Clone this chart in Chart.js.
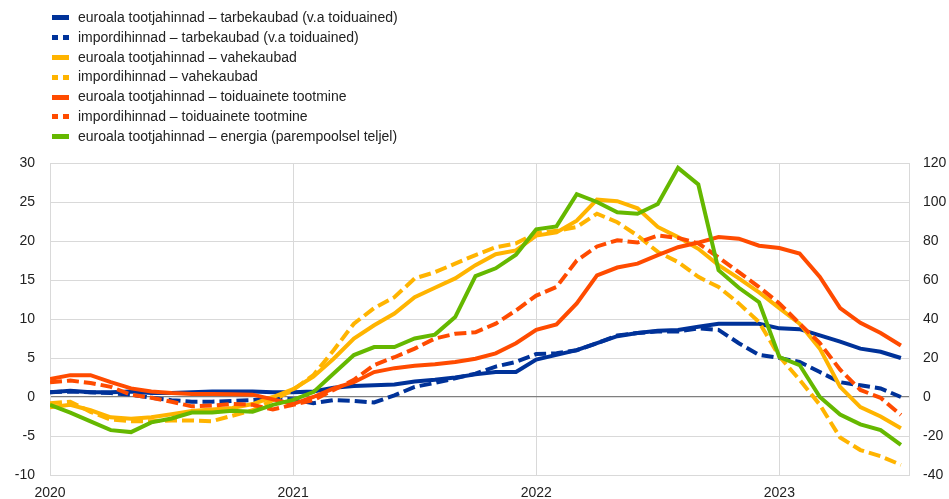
<!DOCTYPE html>
<html>
<head>
<meta charset="utf-8">
<script src="https://cdn.jsdelivr.net/npm/chart.js@4"></script>
<style>
  html, body { margin: 0; padding: 0; background: #fff; }
  #wrap { position: relative; width: 949px; height: 499px; }
  #legend { position: absolute; left: 52px; top: 8px; font-family: "Liberation Sans", Arial, sans-serif; font-size: 14px; color: #222; }
  .row { height: 19.8px; line-height: 19.8px; display: flex; align-items: center; white-space: nowrap; }
  .swatch { width: 17px; height: 5px; margin-right: 9px; flex: none; }
</style>
</head>
<body>
<div id="wrap">
  <canvas id="chart" width="949" height="499"></canvas>
  <div id="legend"></div>
</div>
<script>
// monthly, Jan 2020 .. Jul 2023
const years = ['2020', '2021', '2022', '2023'];
const months = [];
for (let y = 2020; y <= 2023; y++) {
    for (let m = 1; m <= 12; m++) {
        if (y === 2023 && m > 7) break;
        months.push(y + '-' + String(m).padStart(2, '0'));
    }
}

const labels = [
    'euroala tootjahinnad – tarbekaubad (v.a toiduained)',
    'impordihinnad – tarbekaubad (v.a toiduained)',
    'euroala tootjahinnad – vahekaubad',
    'impordihinnad – vahekaubad',
    'euroala tootjahinnad – toiduainete tootmine',
    'impordihinnad – toiduainete tootmine',
    'euroala tootjahinnad – energia (parempoolsel teljel)'
];

const consumerPpi = [0.6, 0.8, 0.6, 0.6, 0.7, 0.5, 0.5, 0.6, 0.7, 0.7, 0.7, 0.6, 0.6, 0.7, 1.2, 1.4, 1.5, 1.6, 2.0, 2.2, 2.5, 2.9, 3.2, 3.2, 4.8, 5.4, 6.0, 6.9, 7.8, 8.2, 8.5, 8.6, 9.0, 9.4, 9.4, 9.4, 8.8, 8.7, 7.9, 7.1, 6.2, 5.8, 5.0];
const consumerImport = [0.6, 0.7, 0.6, 0.5, 0.3, -0.1, -0.4, -0.6, -0.6, -0.5, -0.4, -0.2, -0.3, -0.8, -0.4, -0.5, -0.7, 0.2, 1.3, 1.8, 2.4, 3.0, 3.9, 4.5, 5.5, 5.6, 6.0, 6.9, 7.9, 8.2, 8.4, 8.4, 8.8, 8.6, 6.9, 5.4, 5.0, 4.5, 3.2, 1.9, 1.5, 1.1, 0.0];
const intermPpi = [-1.3, -1.0, -1.7, -2.6, -2.8, -2.6, -2.2, -1.8, -1.6, -1.4, -0.9, 0.0, 1.0, 2.6, 4.9, 7.5, 9.2, 10.7, 12.8, 14.0, 15.2, 16.9, 18.3, 18.8, 20.7, 21.1, 22.6, 25.3, 25.1, 24.2, 21.8, 20.5, 19.0, 16.9, 15.2, 13.4, 11.4, 9.4, 6.2, 1.3, -1.3, -2.5, -4.0];
const intermImport = [-0.8, -0.6, -1.9, -2.9, -3.1, -3.1, -3.0, -3.0, -3.1, -2.4, -1.7, -0.4, 0.9, 2.8, 6.0, 9.4, 11.4, 12.8, 15.2, 16.0, 17.1, 18.2, 19.2, 19.7, 21.0, 21.3, 21.8, 23.5, 22.4, 20.7, 18.6, 17.3, 15.4, 14.1, 12.0, 9.6, 5.2, 2.2, -1.0, -5.2, -6.8, -7.6, -8.7];
const foodPpi = [2.3, 2.8, 2.8, 1.9, 1.1, 0.7, 0.5, 0.4, 0.4, 0.35, 0.3, -0.3, -0.9, 0.0, 1.1, 1.9, 3.2, 3.7, 4.0, 4.2, 4.5, 4.9, 5.6, 6.9, 8.6, 9.3, 12.0, 15.6, 16.6, 17.1, 18.2, 19.2, 19.8, 20.5, 20.3, 19.4, 19.1, 18.4, 15.4, 11.4, 9.5, 8.2, 6.6];
const foodImport = [1.9, 2.1, 1.8, 1.3, 0.3, -0.1, -0.6, -1.2, -1.1, -0.9, -1.0, -1.6, -1.0, -0.4, 0.9, 2.2, 4.1, 5.1, 6.2, 7.5, 8.1, 8.3, 9.4, 11.1, 13.0, 14.1, 17.5, 19.3, 20.1, 19.8, 20.7, 20.4, 19.7, 17.9, 16.0, 14.1, 12.0, 9.4, 6.9, 3.5, 0.9, -0.1, -2.3];
const energyPpi = [-4, -8, -12.5, -17, -18, -13, -11, -8, -8, -7, -7.5, -4, -1.5, 2.5, 12, 21.5, 25.6, 25.6, 30, 32, 41, 62, 66, 73, 86, 87.5, 104, 100, 94.7, 94, 99, 117.5, 109, 65, 56, 48.6, 20.5, 16.4, 0, -9, -14, -17, -24.5];

const leftTicks = { min: -10, max: 30, step: 5 };
const rightTicks = { min: -40, max: 120, step: 20 };

const blue = '#003299';
const yellow = '#FFB400';
const orange = '#FF4B00';
const green = '#65B800';

const series = [consumerPpi, consumerImport, intermPpi, intermImport, foodPpi, foodImport, energyPpi];
const colors = [blue, blue, yellow, yellow, orange, orange, green];
const dashed = [false, true, false, true, false, true, false];

function points(values) {
    return values.map((v, i) => ({ x: i, y: v }));
}

const datasets = series.map((s, i) => ({
    label: labels[i],
    data: points(s),
    borderColor: colors[i],
    backgroundColor: colors[i],
    borderWidth: 4,
    borderDash: dashed[i] ? [12, 5] : [],
    pointRadius: 0,
    tension: 0,
    yAxisID: i === 6 ? 'y2' : 'y',
    order: 7 - i
}));

// legend as plain html
const legend = document.getElementById('legend');
labels.forEach((txt, i) => {
    const row = document.createElement('div');
    row.className = 'row';
    const sw = document.createElement('span');
    sw.className = 'swatch';
    if (dashed[i]) {
        sw.style.background = 'linear-gradient(to right, ' + colors[i] + ' 0 6px, transparent 6px 11px, ' + colors[i] + ' 11px 17px)';
    } else {
        sw.style.background = colors[i];
    }
    row.appendChild(sw);
    row.appendChild(document.createTextNode(txt));
    legend.appendChild(row);
});

const tickFont = { family: '"Liberation Sans", Arial, sans-serif', size: 14 };
const gridColor = '#d9d9d9';

new Chart(document.getElementById('chart'), {
    type: 'line',
    data: { datasets: datasets },
    options: {
        responsive: false,
        animation: false,
        layout: { padding: { top: 163, left: 0, right: 0, bottom: 0 } },
        plugins: { legend: { display: false }, tooltip: { enabled: false } },
        scales: {
            x: {
                type: 'linear',
                min: 0,
                max: 42.4,
                afterFit: (s) => { s.height = 24; },
                ticks: {
                    stepSize: 12,
                    includeBounds: false,
                    color: '#222',
                    font: tickFont,
                    padding: 10,
                    maxRotation: 0,
                    callback: (v) => years[v / 12]
                },
                grid: { color: gridColor, drawTicks: false },
                border: { color: gridColor }
            },
            y: {
                position: 'left',
                min: leftTicks.min,
                max: leftTicks.max,
                afterFit: (s) => { s.width = 50; },
                ticks: { stepSize: leftTicks.step, color: '#222', font: tickFont, padding: 15 },
                grid: {
                    drawTicks: false,
                    color: (c) => c.tick && c.tick.value === 0 ? '#7f7f7f' : gridColor,
                    lineWidth: (c) => c.tick && c.tick.value === 0 ? 1.3 : 1
                },
                border: { color: gridColor }
            },
            y2: {
                position: 'right',
                min: rightTicks.min,
                max: rightTicks.max,
                afterFit: (s) => { s.width = 40; },
                ticks: { stepSize: rightTicks.step, color: '#222', font: tickFont, padding: 14 },
                grid: { drawOnChartArea: false, drawTicks: false },
                border: { color: gridColor }
            }
        }
    }
});
</script>
</body>
</html>
